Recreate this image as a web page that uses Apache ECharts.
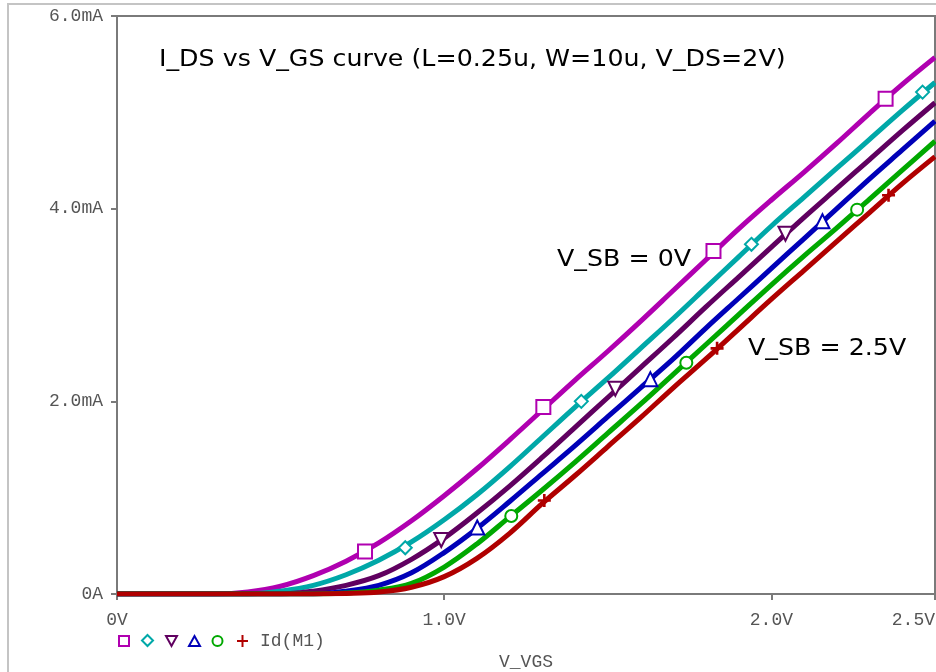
<!DOCTYPE html>
<html>
<head>
<meta charset="utf-8">
<script src="https://cdn.jsdelivr.net/npm/echarts@6/dist/echarts.min.js"></script>
<style>
html,body{margin:0;padding:0;background:#fff;}
#chart{width:936px;height:672px;}
</style>
</head>
<body>
<div id="chart"></div>
<script>
// V_GS sample points (V)
var vgs = [0,0.1,0.2,0.3,0.4,0.5,0.6,0.7,0.8,0.9,1.0,1.1,1.2,1.3,1.4,1.5,1.6,1.7,1.8,1.9,2.0,2.1,2.2,2.3,2.4,2.5];
// I_DS (mA) per body bias curve
var idMagenta = [0,0,0,0,0.02,0.08,0.19,0.34,0.53,0.76,1.02,1.30,1.60,1.91,2.22,2.52,2.83,3.15,3.47,3.79,4.09,4.38,4.68,4.99,5.29,5.57];
var idTeal    = [0,0,0,0,0,0.03,0.09,0.20,0.35,0.54,0.77,1.03,1.32,1.63,1.94,2.24,2.55,2.86,3.18,3.50,3.82,4.12,4.42,4.72,5.02,5.31];
var idPurple  = [0,0,0,0,0,0,0.03,0.09,0.19,0.36,0.58,0.84,1.12,1.42,1.73,2.04,2.35,2.66,2.98,3.29,3.60,3.91,4.21,4.51,4.81,5.10];
var idBlue    = [0,0,0,0,0,0,0,0.03,0.09,0.22,0.43,0.68,0.96,1.25,1.54,1.84,2.14,2.44,2.76,3.07,3.38,3.69,4.00,4.31,4.61,4.91];
var idGreen   = [0,0,0,0,0,0,0,0.01,0.04,0.11,0.28,0.52,0.80,1.08,1.37,1.67,1.97,2.28,2.59,2.90,3.21,3.51,3.80,4.10,4.40,4.70];
var idRed     = [0,0,0,0,0,0,0,0.005,0.02,0.07,0.18,0.37,0.63,0.94,1.23,1.53,1.83,2.14,2.44,2.75,3.06,3.36,3.66,3.96,4.26,4.54];
// marker positions [V, mA]
var mkMagenta = [[0.758,0.44],[1.303,1.94],[1.823,3.56],[2.349,5.14]];
var mkTeal    = [[0.881,0.48],[1.419,2.00],[1.939,3.63],[2.462,5.21]];
var mkPurple  = [[0.991,0.56],[1.523,2.13],[2.043,3.74]];
var mkBlue    = [[1.101,0.69],[1.630,2.23],[2.156,3.87]];
var mkGreen   = [[1.205,0.81],[1.740,2.40],[2.262,3.99]];
var mkRed     = [[1.306,0.97],[1.834,2.55],[2.358,4.14]];
var yTicks = {0:'0A',2:'2.0mA',4:'4.0mA',6:'6.0mA'};
var xTicks = {0:'0V',1:'1.0V',2:'2.0V',2.5:'2.5V'};

var colors = ['#b000b0','#00a8a8','#600060','#0000b8','#00a800','#b00000'];
var curves = [idMagenta,idTeal,idPurple,idBlue,idGreen,idRed];
var marks = [mkMagenta,mkTeal,mkPurple,mkBlue,mkGreen,mkRed];
var plusPath = 'path://M4,0H6V4H10V6H6V10H4V6H0V4H4Z';
var symbols = ['rect','diamond','triangle','triangle','circle',plusPath];
var rotates = [0,0,180,0,0,0];
var sizes = [14,13,14,14,12,13];

var series = [];
curves.forEach(function(c,i){
  series.push({
    type:'line', data: vgs.map(function(v,k){return [v,c[k]];}),
    showSymbol:false, smooth:0.35,
    lineStyle:{color:colors[i],width:5}, z:2+i, silent:true, animation:false
  });
});
marks.forEach(function(m,i){
  var isPlus = i===5;
  series.push({
    type:'scatter', data:m, symbol:symbols[i], symbolSize:sizes[i], symbolRotate:rotates[i],
    itemStyle: isPlus ? {color:colors[i],opacity:1} : {color:'#ffffff',borderColor:colors[i],borderWidth:2,opacity:1},
    z:10, animation:false, silent:true
  });
});

var lblFont = {fontFamily:'Liberation Mono', fontSize:18, color:'#555'};
var chart = echarts.init(document.getElementById('chart'));
chart.setOption({
  backgroundColor:'#fff',
  animation:false,
  grid:{left:117,right:1,top:16,bottom:78,outerBoundsMode:'none',containLabel:false,show:true,borderColor:'#7a7a7a',borderWidth:2,backgroundColor:'#fff'},
  xAxis:{type:'value',min:0,max:2.5,interval:1,
    name:'V_VGS',nameLocation:'middle',nameGap:59,
    nameTextStyle:{fontFamily:'Liberation Mono',fontSize:18,color:'#555'},
    axisLine:{show:true,onZero:false,lineStyle:{color:'#7a7a7a',width:2}},
    axisTick:{show:true,inside:false,length:6,lineStyle:{color:'#7a7a7a',width:2}},
    splitLine:{show:false},
    axisLabel:Object.assign({margin:17,showMaxLabel:true,alignMaxLabel:'right',
      formatter:function(v){return xTicks[v]!==undefined?xTicks[v]:'';}},lblFont)
  },
  yAxis:{type:'value',min:0,max:6,interval:2,
    axisLine:{show:true,lineStyle:{color:'#7a7a7a',width:2}},
    axisTick:{show:true,length:6,lineStyle:{color:'#7a7a7a',width:2}},
    splitLine:{show:false},
    axisLabel:Object.assign({margin:14,formatter:function(v){return yTicks[v]!==undefined?yTicks[v]:'';}},lblFont)
  },
  series:series,
  graphic:[
    {type:'rect',shape:{x:8,y:4,width:1000,height:1000},style:{fill:'none',stroke:'#c4c4c4',lineWidth:2},z:-10,silent:true},
    {type:'text',x:159,y:60,scaleX:1.1,style:{text:'I_DS vs V_GS curve (L=0.25u, W=10u, V_DS=2V)',fontFamily:'DejaVu Sans',fontSize:23,fill:'#000',textVerticalAlign:'middle'},z:20},
    {type:'text',x:557,y:260,scaleX:1.1,style:{text:'V_SB = 0V',fontFamily:'DejaVu Sans',fontSize:23,fill:'#000',textVerticalAlign:'middle'},z:20},
    {type:'text',x:748,y:349,scaleX:1.1,style:{text:'V_SB = 2.5V',fontFamily:'DejaVu Sans',fontSize:23,fill:'#000',textVerticalAlign:'middle'},z:20},
    // legend symbols
    {type:'rect',shape:{x:119,y:636,width:10,height:10},style:{fill:'none',stroke:colors[0],lineWidth:2},z:20},
    {type:'polygon',shape:{points:[[147.5,635],[153,640.5],[147.5,646],[142,640.5]]},style:{fill:'none',stroke:colors[1],lineWidth:2},z:20},
    {type:'polygon',shape:{points:[[166,636],[177,636],[171.5,646]]},style:{fill:'none',stroke:colors[2],lineWidth:2},z:20},
    {type:'polygon',shape:{points:[[189,646],[200,646],[194.5,636]]},style:{fill:'none',stroke:colors[3],lineWidth:2},z:20},
    {type:'circle',shape:{cx:217.5,cy:641,r:5},style:{fill:'none',stroke:colors[4],lineWidth:2},z:20},
    {type:'polyline',shape:{points:[[237,641],[248,641]]},style:{stroke:colors[5],lineWidth:2},z:20},
    {type:'polyline',shape:{points:[[242.5,635],[242.5,647]]},style:{stroke:colors[5],lineWidth:2},z:20},
    {type:'text',x:260,y:641,style:{text:'Id(M1)',fontFamily:'Liberation Mono',fontSize:18,fill:'#555',textVerticalAlign:'middle'},z:20}
  ]
});
</script>
</body>
</html>
